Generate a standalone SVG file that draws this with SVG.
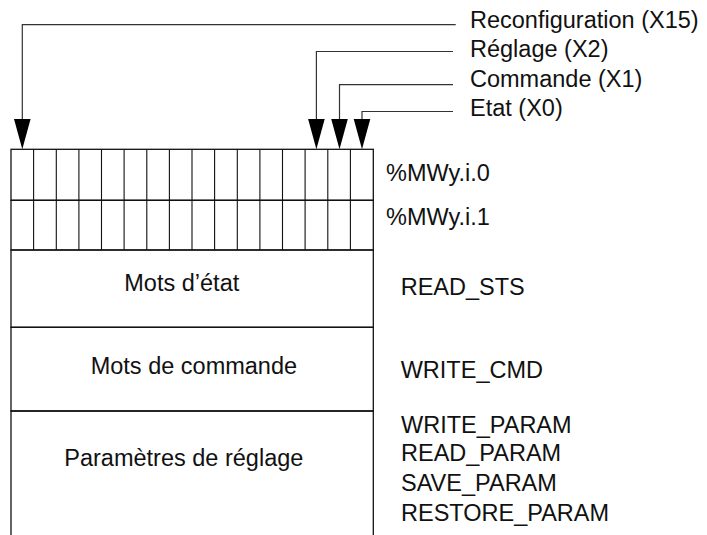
<svg xmlns="http://www.w3.org/2000/svg" width="707" height="535" viewBox="0 0 707 535">
<defs>
<style>
text{font-family:"Liberation Sans",Arial,Helvetica,sans-serif;font-size:23.5px;fill:#111}
.box{fill:none;stroke:#111;stroke-width:1.3}
.cell{stroke:#111;stroke-width:1.1}
.conn{fill:none;stroke:#333;stroke-width:1.2}
.head{fill:#000}
</style>
</defs>
<rect width="707" height="535" fill="#fff"/>
<g id="connectors">
<polyline class="conn" points="455.7,24.7 22.3,24.7 22.3,120"/>
<polygon class="head" points="14,119 30.6,119 22.3,149.3"/>
<polyline class="conn" points="453,51.5 316.4,51.5 316.4,120"/>
<polygon class="head" points="308.1,119 324.7,119 316.4,149.3"/>
<polyline class="conn" points="453,84.7 339.5,84.7 339.5,120"/>
<polygon class="head" points="331.2,119 347.8,119 339.5,149.3"/>
<polyline class="conn" points="453,111.5 362,111.5 362,120"/>
<polygon class="head" points="353.7,119 370.3,119 362,149.3"/>
</g>
<g id="label-x15"><text x="470" y="28.3">Reconfiguration (X15)</text></g>
<g id="label-x2"><text x="470" y="56.7">Réglage (X2)</text></g>
<g id="label-x1"><text x="470" y="87">Commande (X1)</text></g>
<g id="label-x0"><text x="470" y="115.5">Etat (X0)</text></g>
<g id="word0">
<rect class="box" x="11" y="149.3" width="362.3" height="51"/>
<path class="cell" d="M33.6,149.3V250M56.3,149.3V250M78.9,149.3V250M101.5,149.3V250M124.1,149.3V250M146.8,149.3V250M169.4,149.3V250M192,149.3V250M214.6,149.3V250M237.3,149.3V250M259.9,149.3V250M282.5,149.3V250M305.1,149.3V250M327.8,149.3V250M350.4,149.3V250"/>
<text x="386" y="181">%MWy.i.0</text>
</g>
<g id="word1">
<rect class="box" x="11" y="200.3" width="362.3" height="49.7"/>
<text x="386" y="225">%MWy.i.1</text>
</g>
<g id="mots-etat">
<rect class="box" x="11" y="250" width="362.3" height="77.3"/>
<text x="124.3" y="291.3">Mots d’état</text>
<text x="400.7" y="295">READ_STS</text>
</g>
<g id="mots-commande">
<rect class="box" x="11" y="327.3" width="362.3" height="83.7"/>
<text x="90.7" y="374">Mots de commande</text>
<text x="400.7" y="378">WRITE_CMD</text>
</g>
<g id="parametres">
<path class="box" d="M11,540V411H373.3V540"/>
<text x="64.3" y="466">Paramètres de réglage</text>
<text x="401" y="433.3">WRITE_PARAM</text>
<text x="401" y="461">READ_PARAM</text>
<text x="401" y="490.7">SAVE_PARAM</text>
<text x="401" y="520.7">RESTORE_PARAM</text>
</g>
</svg>
